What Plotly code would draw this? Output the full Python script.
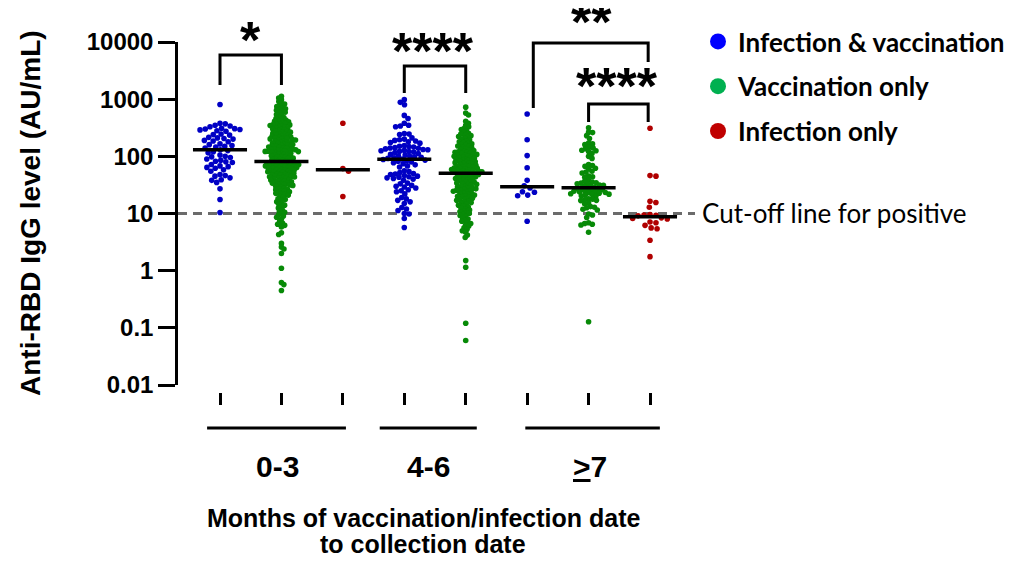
import math
import numpy as np
import plotly.graph_objects as go

# ---------------- data (AU/mL) ----------------
groups = ["0-3", "4-6", "&gt;7"]
series_names = ["Infection & vaccination", "Vaccination only", "Infection only"]

blue_03 = [805, 380, 370, 350, 340, 330, 310, 305, 300, 295, 290, 280, 275, 245, 240,
           235, 215, 210, 205, 200, 190, 185, 180, 165, 160, 155, 150, 145, 140, 130,
           126, 120, 115, 105, 100, 98, 95, 90, 85, 82, 80, 78, 72, 68, 66, 64, 62, 58,
           55, 48, 46, 45, 42, 39, 38, 35, 27, 17.6, 10.4]

green_03 = [1120,
            1050, 980, 910, 850, 820, 760, 740, 700, 680, 660, 640, 610,
            590, 570, 540, 520, 490, 475, 460, 440, 430, 420, 410, 400, 390, 375, 370,
            365, 360, 355,
            345, 338, 330, 322, 315, 308, 300, 295, 290, 283, 276, 270, 265, 260, 254,
            248, 243, 238, 233, 228, 224, 220, 216, 212, 208, 205, 202, 200,
            197, 193, 190, 186, 183, 180, 176, 173, 170, 167, 164, 161, 158, 155, 152,
            150, 147, 145, 142, 140, 138, 136, 134, 132, 130, 128, 126, 125, 124, 123,
            122, 121,
            118, 116, 114, 112, 110, 108, 106, 104, 102, 100, 98, 97, 95, 93, 92, 90,
            88, 87, 85, 84, 82, 81,
            79.5, 79, 78, 77, 76, 75, 74, 73, 72, 71, 70, 69.5, 69, 68, 67, 66, 65.5, 65,
            64, 63, 62, 61.5, 61, 60, 59, 58, 57.5, 57, 56, 55, 54, 53.5, 53, 52, 51, 50.5,
            49, 48, 47.5, 47, 46, 45, 44.5, 44, 43.5, 43, 42, 41, 40, 39, 38.5, 38, 37,
            36.5, 36, 35, 34.5, 34, 33, 32.5, 32, 31.5, 31, 30,
            29, 28, 27, 26.5, 26, 25, 24.5, 24, 23, 22.5, 22, 21.5, 21, 20,
            19, 18, 17.5, 17, 16, 15, 14.5, 14, 13, 12.5,
            11.5, 11, 10.5, 10, 9.5, 9, 8.6,
            8, 7.2, 6.8, 6.5, 6.2, 5.8,
            4.6, 4.3, 3.0, 2.6, 2.4, 2.0, 1.1, 0.62, 0.57, 0.45]

red_03 = [380, 61, 55, 19.8]

blue_46 = [980, 880, 800, 520, 460, 380, 350, 340, 330, 250, 245, 240,
           210, 200, 195, 190, 185, 180, 175, 170,
           155, 150, 148, 145, 142, 140, 138, 135, 132, 130, 127, 125, 123, 121, 119, 117,
           112, 108, 105, 102, 100, 98, 96, 94, 92, 90, 88, 86, 84, 82, 80, 77, 74, 71,
           68, 65,
           56, 54, 52, 50, 49, 48, 46, 45, 44, 43, 42, 41, 40, 38,
           34, 33, 31, 30, 29, 28, 26, 25, 24, 22,
           19, 18, 17, 16, 15, 12.7, 12, 11.3, 10, 9.8, 8.2, 5.7]

green_46 = [725, 570, 530,
            410, 380, 350, 330, 310, 295, 280, 265, 252,
            245, 238, 230, 222, 215, 208, 200, 193, 186, 180, 174, 169,
            165, 160, 156, 152, 148, 144, 140, 136, 132, 129, 126, 123, 120, 118, 116,
            114, 112,
            110, 108, 106, 104, 102, 100, 98, 96, 94, 92, 90, 88, 86.5, 85, 83.5, 82,
            80.5, 79, 77.5, 76, 74.5, 73, 71.5, 70, 68.5, 67, 66, 65, 64, 63, 62, 61, 60,
            59, 58, 57, 56, 55.5, 55, 54, 53.5, 53,
            52, 51, 50, 49.5, 49, 48, 47, 46, 45, 44, 43, 42.5, 42, 41, 40, 39, 38,
            37, 36, 35.5, 35, 34, 33, 32.5, 32, 31, 30, 29.5, 29, 28, 27.5, 27, 26.5, 26,
            25.5, 25,
            24.5, 24, 23, 22.5, 22, 21.5, 21, 20.5, 20, 19.5, 19, 18.5, 18, 17.5, 17,
            16.5, 16, 15.5, 15, 14.5, 14, 13.5, 13, 12.5, 12, 11.5, 11, 10.7, 10.3, 10,
            9.6, 9.2, 8.8, 8.4, 8, 7.6, 7.3, 7, 6.7,
            6.3, 6, 5.6, 5.3, 5, 4.7, 4.2, 3.8,
            1.5, 1.15, 0.12, 0.06]

blue_7 = [550, 195, 103, 63, 38, 30.5, 28, 24, 23.5, 21, 20.5, 7.3]

green_7 = [315, 265, 260, 230, 205, 170, 165, 160, 145, 140, 136, 128, 125, 122,
           112, 100, 92, 72, 69, 67, 62, 60, 55, 53, 51, 45, 44, 43,
           38, 36.5, 35.5, 34.5, 34, 33, 32.5, 31.5, 31, 30, 29.5,
           28.5, 28, 27.5, 27, 26.5, 26, 25.5, 25, 24.5, 24, 23.7, 23.3,
           23, 22.6, 22.2, 21.8, 21.4, 21, 20.5, 20,
           18, 17.8, 17.4, 17, 16.8, 15.2, 14.8, 13.2, 12.9, 12.6, 11.9, 11.5,
           9.8, 9.4, 8.5, 6.9, 6.7, 6.5, 6.3, 4.7, 0.128]

red_7 = [310, 46, 45, 16.4, 15.6, 12.9, 9.6, 9.4, 9.3, 9.1, 8.4, 8.2, 8.0, 7.1, 6.9,
         6.2, 5.6, 5.4, 3.4, 1.76]

cutoff_value = 10
y_tick_values = [0.01, 0.1, 1, 10, 100, 1000, 10000]
y_tick_labels = ["0.01", "0.1", "1", "10", "100", "1000", "10000"]

# (values, series index, category position, swarm spacing px)
columns = [
    (blue_03, 0, 0, 5.3), (green_03, 1, 1, 3.2), (red_03, 2, 2, 6.2),
    (blue_46, 0, 3, 4.8), (green_46, 1, 4, 3.3),
    (blue_7, 0, 5, 6.2), (green_7, 1, 6, 4.0), (red_7, 2, 7, 6.0),
]

# ---------------- styling / layout ----------------
# positions below are given in screenshot pixels; the page body adds an 8px margin
PAGE_OFF = 8
W, H = 1018 - 2 * PAGE_OFF, 567 - 2 * PAGE_OFF
PLOT_L, PLOT_R, PLOT_T, PLOT_B = 178, 695, 42, 392
AXIS_BOTTOM_PX = 385            # where 0.01 sits
X0_PX, X_STEP_PX = 220, 61.43   # pixel of category 0 and spacing
XMIN = (PLOT_L - X0_PX) / X_STEP_PX
XMAX = (PLOT_R - X0_PX) / X_STEP_PX
PX_PER_DEC = (AXIS_BOTTOM_PX - PLOT_T) / 6.0

point_colors = ["#0000c4", "#078a07", "#b00000"]
legend_colors = ["#0000ff", "#00b050", "#c00000"]
FONT = "Liberation Sans, Arial, sans-serif"
CAL = "Lato, Carlito, Calibri, sans-serif"


def py2paper(py):
    return (PLOT_B - py) / (PLOT_B - PLOT_T)


def px2paper(px):
    return (px - PLOT_L) / (PLOT_R - PLOT_L)


def beeswarm(vals, d):
    y = np.log10(np.asarray(vals, float)) * PX_PER_DEC
    order = np.argsort(-y, kind="stable")
    px_, py_ = [], []
    xs = np.zeros(len(y))
    for k, i in enumerate(order):
        yi = y[i]
        near = [(xj, yj) for xj, yj in zip(px_, py_) if abs(yi - yj) < d]
        cands = [0.0]
        for xj, yj in near:
            dx = math.sqrt(max(d * d - (yi - yj) ** 2, 0.0))
            cands += [xj + dx, xj - dx]
        sgn = 1 if k % 2 == 0 else -1
        cands.sort(key=lambda c: (round(abs(c), 6), -sgn * c))
        chosen = 0.0
        for c in cands:
            if all((c - xj) ** 2 + (yi - yj) ** 2 >= d * d - 1e-6 for xj, yj in near):
                chosen = c
                break
        xs[i] = chosen
        px_.append(chosen)
        py_.append(yi)
    return xs / X_STEP_PX


fig = go.Figure()

# cut-off dashed line
fig.add_trace(go.Scatter(x=[XMIN, XMAX], y=[cutoff_value, cutoff_value], mode="lines",
                         line=dict(color="#6b6b6b", width=3, dash="9px,6px"),
                         showlegend=False, hoverinfo="skip"))

for vals, s, pos, d in columns:
    offs = beeswarm(vals, d)
    fig.add_trace(go.Scatter(x=pos + offs, y=vals, mode="markers",
                             marker=dict(size=5.6, color=point_colors[s], line=dict(width=0)),
                             showlegend=False, cliponaxis=False, name=series_names[s]))

for vals, s, pos, d in columns:
    med = float(np.median(vals))
    fig.add_trace(go.Scatter(x=[pos - 0.44, pos + 0.44], y=[med, med], mode="lines",
                             line=dict(color="black", width=3.5),
                             showlegend=False, hoverinfo="skip"))

# legend entries
for s, name in enumerate(series_names):
    fig.add_trace(go.Scatter(x=[None], y=[None], mode="markers", name=name,
                             legendgroup=f"g{s}",
                             marker=dict(size=17, color=legend_colors[s])))

shapes = []
# significance brackets: (x_left, x_right, top_px, left_bottom_px, right_bottom_px)
brackets = [(0, 1, 55, 85, 85), (3, 4, 66, 93, 93), (5.1, 6.97, 43, 108, 62),
            (6, 6.97, 104, 122, 122)]
for xl, xr, top, bl, br in brackets:
    shapes.append(dict(type="path", xref="x", yref="paper",
                       path=f"M {xl},{py2paper(bl)} L {xl},{py2paper(top)} "
                            f"L {xr},{py2paper(top)} L {xr},{py2paper(br)}",
                       line=dict(color="black", width=3)))

# group underline bars
group_spans = [(-0.21, 2.05), (2.60, 4.18), (4.97, 7.16)]
for a, b in group_spans:
    shapes.append(dict(type="line", xref="x", yref="paper", x0=a, x1=b,
                       y0=py2paper(428), y1=py2paper(428),
                       line=dict(color="black", width=3)))

annotations = []
stars = [("*", 0.49, 40), ("****", 3.47, 51), ("**", 6.05, 22), ("****", 6.46, 86)]
for txt, x, py in stars:
    annotations.append(dict(text=txt, x=x, y=py2paper(py), xref="x", yref="paper",
                            showarrow=False, xanchor="center", yanchor="middle",
                            font=dict(family=FONT, size=52, color="black", weight="bold")))

group_label_x = [0.93, 3.39, 6.02]
for g, x in zip(groups, group_label_x):
    lab = "<u>&gt;</u>7" if g == "&gt;7" else g
    annotations.append(dict(text=lab, x=x, y=py2paper(467), xref="x", yref="paper",
                            showarrow=False, xanchor="center", yanchor="middle",
                            font=dict(family=FONT, size=30, color="black", weight="bold")))

annotations.append(dict(text="Months of vaccination/infection date", x=3.31,
                        y=py2paper(518), xref="x", yref="paper", showarrow=False,
                        xanchor="center", yanchor="middle", borderpad=0,
                        font=dict(family=FONT, size=25, color="black", weight="bold")))
annotations.append(dict(text="to collection date", x=3.31,
                        y=py2paper(544), xref="x", yref="paper", showarrow=False,
                        xanchor="center", yanchor="middle", borderpad=0,
                        font=dict(family=FONT, size=25, color="black", weight="bold")))
annotations.append(dict(text="Anti-RBD IgG level (AU/mL)", textangle=-90,
                        x=px2paper(30), y=py2paper(213), xref="paper", yref="paper",
                        showarrow=False, xanchor="center", yanchor="middle",
                        font=dict(family=FONT, size=28, color="black", weight="bold")))
annotations.append(dict(text="Cut-off line for positive", x=px2paper(700),
                        y=py2paper(213), xref="paper", yref="paper", showarrow=False,
                        xanchor="left", yanchor="middle",
                        font=dict(family=CAL, size=26, color="black")))

fig.update_layout(
    width=W, height=H,
    margin=dict(l=PLOT_L - PAGE_OFF, r=W - (PLOT_R - PAGE_OFF), t=PLOT_T - PAGE_OFF,
                b=H - (PLOT_B - PAGE_OFF), pad=0, autoexpand=False),
    paper_bgcolor="white", plot_bgcolor="white",
    showlegend=True,
    legend=dict(x=px2paper(698), y=py2paper(18), xanchor="left", yanchor="top",
                xref="paper", yref="paper", traceorder="grouped", tracegroupgap=8,
                font=dict(family=CAL, size=26, color="black", weight="bold"),
                bgcolor="rgba(0,0,0,0)", itemsizing="trace"),
    xaxis=dict(range=[XMIN, XMAX], domain=[0, 1], showgrid=False, zeroline=False,
               showline=False, tickvals=list(range(8)), ticktext=[""] * 8,
               ticks="outside", ticklen=12, tickwidth=2.5, tickcolor="black",
               anchor="free", position=0),
    yaxis=dict(type="log", range=[-2, 4],
               domain=[(PLOT_B - AXIS_BOTTOM_PX) / (PLOT_B - PLOT_T), 1],
               showgrid=False, zeroline=False, showline=True, linecolor="black",
               linewidth=2.5, tickvals=y_tick_values, ticktext=y_tick_labels,
               ticks="outside", ticklen=17, tickwidth=2.5, tickcolor="black",
               tickfont=dict(family=FONT, size=24, color="black", weight="bold")),
    shapes=shapes, annotations=annotations,
)

fig.write_html("out.html")
